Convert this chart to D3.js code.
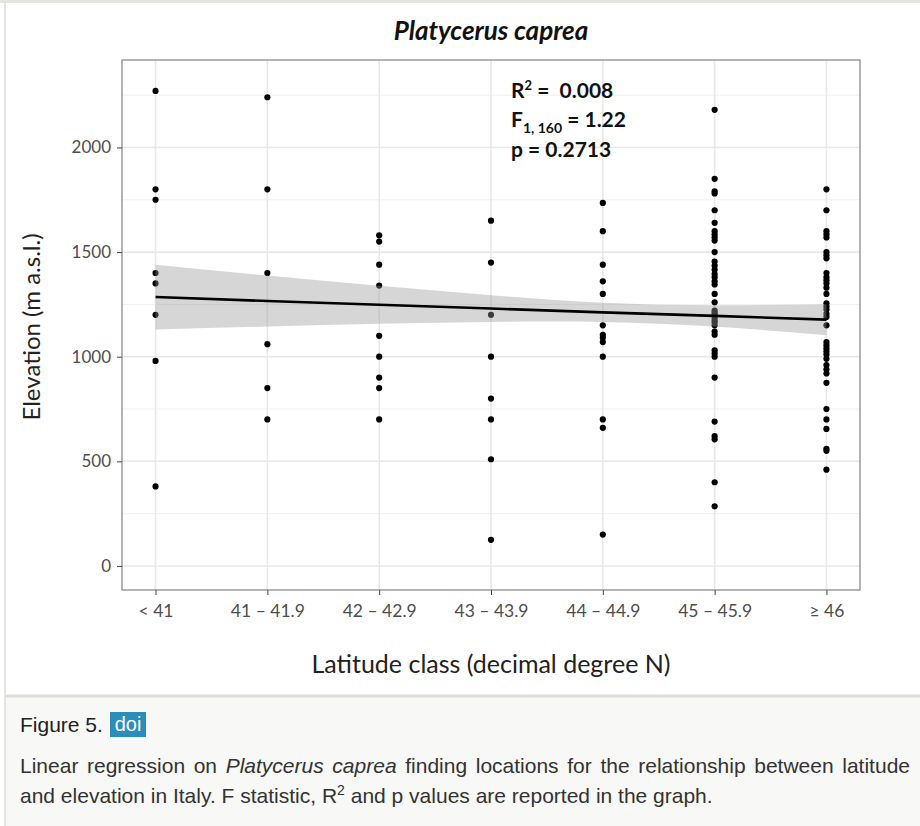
<!DOCTYPE html>
<html>
<head>
<meta charset="utf-8">
<script src="https://cdn.jsdelivr.net/npm/d3@7"></script>
<style>
  body { margin: 0; background: #fff; }
  svg { display: block; }
</style>
</head>
<body>
<svg id="chart" width="920" height="826"></svg>
<script>
// ---- data ----
const categories = ['< 41', '41 \u2013 41.9', '42 \u2013 42.9', '43 \u2013 43.9', '44 \u2013 44.9', '45 \u2013 45.9', '\u2265 46'];

const elev_lt41 = [2270, 1800, 1750, 1400, 1350, 1200, 980, 380];
const elev_41 = [2240, 1800, 1400, 1060, 850, 700];
const elev_42 = [1580, 1550, 1440, 1340, 1100, 1000, 900, 850, 700];
const elev_43 = [1650, 1450, 1200, 1000, 800, 700, 510, 125];
const elev_44 = [1735, 1600, 1440, 1360, 1300, 1150, 1105, 1090, 1070, 1000, 700, 660, 150];
const elev_45 = [2180, 1850, 1790, 1780, 1700, 1640, 1600, 1585, 1570, 1555, 1500, 1455, 1435, 1415, 1395,
                 1380, 1360, 1345, 1300, 1260, 1220, 1210, 1200, 1190, 1175, 1165, 1150, 1120, 1105, 1030,
                 1015, 1000, 900, 690, 620, 605, 400, 285];
const elev_ge46 = [1800, 1700, 1600, 1585, 1570, 1500, 1485, 1470, 1400, 1380, 1365, 1350, 1330, 1300, 1255,
                   1240, 1225, 1205, 1190, 1150, 1070, 1055, 1040, 1025, 1010, 990, 960, 940, 920, 875,
                   750, 700, 655, 560, 550, 460];

// regression fit and 95% band at each class
const fitValues = [1285, 1266, 1248, 1230, 1212, 1195, 1177];
const bandLower = [1130, 1144, 1157, 1166, 1166, 1144, 1103];
const bandUpper = [1440, 1388, 1339, 1294, 1258, 1246, 1251];

const yTicks = [0, 500, 1000, 1500, 2000];

const groups = [elev_lt41, elev_41, elev_42, elev_43, elev_44, elev_45, elev_ge46];

// ---- layout ----
const svg = d3.select('#chart');
const panel = { left: 122, right: 860, top: 60, bottom: 590 };
const font = 'Lato, "Open Sans", sans-serif';

// page frame
svg.append('rect').attr('x', 0).attr('y', 0).attr('width', 920).attr('height', 826).attr('fill', '#fff');
svg.append('line').attr('x1', 0).attr('x2', 920).attr('y1', 1.5).attr('y2', 1.5)
    .attr('stroke', '#e4e4e0').attr('stroke-width', 3);
svg.append('line').attr('x1', 5).attr('x2', 5).attr('y1', 0).attr('y2', 826)
    .attr('stroke', '#e4e4e0').attr('stroke-width', 2);

const x = d3.scaleLinear().domain([0.7, 7.3]).range([panel.left, panel.right]);
const y = d3.scaleLinear().domain([-115, 2418]).range([panel.bottom, panel.top]);

const plot = svg.append('g');

// grid
const minorTicks = d3.range(250, 2418, 500);
plot.selectAll('.minor').data(minorTicks).enter().append('line')
    .attr('x1', panel.left).attr('x2', panel.right)
    .attr('y1', d => y(d)).attr('y2', d => y(d))
    .attr('stroke', '#f0f0f0').attr('stroke-width', 1);
plot.selectAll('.major').data(yTicks).enter().append('line')
    .attr('x1', panel.left).attr('x2', panel.right)
    .attr('y1', d => y(d)).attr('y2', d => y(d))
    .attr('stroke', '#e8e8e8').attr('stroke-width', 1.6);
plot.selectAll('.vgrid').data(categories).enter().append('line')
    .attr('x1', (d, i) => x(i + 1)).attr('x2', (d, i) => x(i + 1))
    .attr('y1', panel.top).attr('y2', panel.bottom)
    .attr('stroke', '#e8e8e8').attr('stroke-width', 1.6);

// points
const points = [];
groups.forEach((g, i) => g.forEach(v => points.push({ cls: i + 1, value: v })));
plot.selectAll('.pt').data(points).enter().append('circle')
    .attr('cx', d => x(d.cls))
    .attr('cy', d => y(d.value))
    .attr('r', 3.1)
    .attr('fill', '#000');

// confidence band + fit line
const bandData = fitValues.map((f, i) => ({ cls: i + 1, fit: f, lo: bandLower[i], hi: bandUpper[i] }));
const area = d3.area().x(d => x(d.cls)).y0(d => y(d.lo)).y1(d => y(d.hi)).curve(d3.curveNatural);
plot.append('path').datum(bandData).attr('d', area)
    .attr('fill', '#999999').attr('fill-opacity', 0.4);
const line = d3.line().x(d => x(d.cls)).y(d => y(d.fit));
plot.append('path').datum(bandData).attr('d', line)
    .attr('fill', 'none').attr('stroke', '#000').attr('stroke-width', 2.6);

// panel border
plot.append('rect')
    .attr('x', panel.left).attr('y', panel.top)
    .attr('width', panel.right - panel.left).attr('height', panel.bottom - panel.top)
    .attr('fill', 'none').attr('stroke', '#8c8c8c').attr('stroke-width', 1.3);

// axes
const yAxis = d3.axisLeft(y).tickValues(yTicks).tickFormat(d3.format('d')).tickSize(5).tickPadding(6);
const gy = svg.append('g').attr('transform', `translate(${panel.left},0)`).call(yAxis);
gy.select('.domain').remove();
gy.selectAll('line').attr('stroke', '#444');
gy.selectAll('text').attr('font-family', font).attr('font-size', 17).attr('fill', '#4d4d4d');

const xAxis = d3.axisBottom(x).tickValues(d3.range(1, 8)).tickFormat(d => categories[d - 1]).tickSize(5).tickPadding(10);
const gx = svg.append('g').attr('transform', `translate(0,${panel.bottom})`).call(xAxis);
gx.select('.domain').remove();
gx.selectAll('line').attr('stroke', '#444');
gx.selectAll('text').attr('font-family', font).attr('font-size', 17.5).attr('fill', '#4d4d4d');

// titles
svg.append('text').attr('x', 491).attr('y', 40).attr('text-anchor', 'middle')
    .attr('font-family', font).attr('font-size', 26).attr('font-weight', 700).attr('font-style', 'italic')
    .attr('fill', '#111').text('Platycerus caprea');

svg.append('text').attr('transform', 'translate(40,327) rotate(-90)').attr('text-anchor', 'middle')
    .attr('font-family', font).attr('font-size', 24).attr('fill', '#222').text('Elevation (m a.s.l.)');

svg.append('text').attr('x', 491).attr('y', 673).attr('text-anchor', 'middle')
    .attr('font-family', font).attr('font-size', 25).attr('fill', '#222').text('Latitude class (decimal degree N)');

// stats annotation
const stats = svg.append('g').attr('font-family', font).attr('font-size', 21).attr('font-weight', 700).attr('fill', '#111');
const r2 = stats.append('text').attr('x', 511).attr('y', 98);
r2.append('tspan').text('R');
r2.append('tspan').attr('dy', -8).attr('font-size', 13).text('2');
r2.append('tspan').attr('dy', 8).text(' =\u00a0\u00a00.008');
const fs = stats.append('text').attr('x', 511).attr('y', 127);
fs.append('tspan').text('F');
fs.append('tspan').attr('dy', 6).attr('font-size', 14).text('1, 160');
fs.append('tspan').attr('dy', -6).text(' = 1.22');
stats.append('text').attr('x', 511).attr('y', 157).text('p = 0.2713');

// caption block
svg.append('rect').attr('x', 6).attr('y', 696).attr('width', 914).attr('height', 130).attr('fill', '#f8f8f6');
svg.append('line').attr('x1', 6).attr('x2', 920).attr('y1', 696).attr('y2', 696)
    .attr('stroke', '#dcdcd8').attr('stroke-width', 3);

const capFont = '"Liberation Sans", Arial, sans-serif';
svg.append('text').attr('x', 20).attr('y', 732).attr('font-family', capFont).attr('font-size', 21)
    .attr('fill', '#222').text('Figure 5.');
svg.append('rect').attr('x', 110).attr('y', 712).attr('width', 36).attr('height', 25).attr('fill', '#2b8dba');
svg.append('text').attr('x', 128).attr('y', 731).attr('text-anchor', 'middle').attr('font-family', capFont)
    .attr('font-size', 20).attr('fill', '#fff').text('doi');

const cap1 = svg.append('text').attr('x', 20).attr('y', 773).attr('font-family', capFont)
    .attr('font-size', 21).attr('fill', '#333');
cap1.append('tspan').text('Linear regression on ');
cap1.append('tspan').attr('font-style', 'italic').text('Platycerus caprea');
cap1.append('tspan').text(' finding locations for the relationship between latitude');
// justified first line: spread the extra room over the word gaps
const cap1Len = cap1.node().getComputedTextLength();
const gaps = cap1.text().split(' ').length - 1;
cap1.attr('word-spacing', Math.max(0, (890 - cap1Len) / gaps));

const cap2 = svg.append('text').attr('x', 20).attr('y', 803).attr('font-family', capFont)
    .attr('font-size', 21).attr('fill', '#333');
cap2.append('tspan').text('and elevation in Italy. F statistic, R');
cap2.append('tspan').attr('dy', -8).attr('font-size', 14).text('2');
cap2.append('tspan').attr('dy', 8).text(' and p values are reported in the graph.');
</script>
</body>
</html>
